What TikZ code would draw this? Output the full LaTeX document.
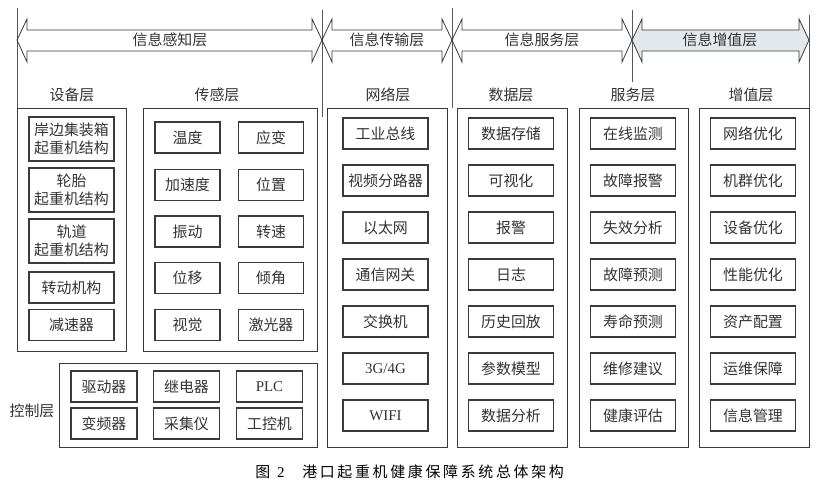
\documentclass[tikz,border=0pt]{standalone}
\usepackage{fontspec}
\setmainfont{Liberation Serif}
\newfontfamily\cjk{Noto Sans CJK SC}
\definecolor{LineGray}{HTML}{3A3A3A}
\definecolor{TextGray}{HTML}{333333}
\definecolor{ValueFill}{HTML}{E3E8EC}
\tikzset{
  itembox/.style={draw=LineGray,line width=1.1pt,
    minimum width=63.75pt,minimum height=23.25pt,
    font=\cjk\fontsize{11.2}{14}\selectfont,text=TextGray,
    align=center,inner sep=1pt},
  sensebox/.style={itembox,minimum width=48.75pt},
  devbox/.style={itembox,minimum height=33pt},
  ctrlbox/.style={itembox,minimum width=49.5pt},
  colbox/.style={draw=LineGray,line width=0.7pt},
  layerlabel/.style={font=\cjk\fontsize{11.2}{13}\selectfont,text=TextGray},
  bandarrow/.style={draw=LineGray,line width=0.6pt},
  divider/.style={draw=LineGray!85,line width=0.6pt},
}

\begin{document}
\begin{tikzpicture}[x=0.75pt,y=-0.75pt]
  \useasboundingbox (0,0) rectangle (820,492);
  % band dividers
  \draw[divider] (17,8) -- (17,108);
  \draw[divider] (322,10) -- (322,117);
  \draw[divider] (452,8) -- (452,108);
  \draw[divider] (632,10) -- (632,82);
  \draw[divider] (809,15) -- (809,108);
  % band arrows
  \draw[bandarrow] (17,40) -- (27,19) -- (27,30) -- (312,30) -- (312,19) -- (322,40)
    -- (312,62) -- (312,51) -- (27,51) -- (27,62) -- cycle;
  \draw[bandarrow] (322,40) -- (332,19) -- (332,30) -- (442,30) -- (442,19) -- (452,40)
    -- (442,62) -- (442,51) -- (332,51) -- (332,62) -- cycle;
  \draw[bandarrow] (452,40) -- (462,19) -- (462,30) -- (622,30) -- (622,19) -- (632,40)
    -- (622,62) -- (622,51) -- (462,51) -- (462,62) -- cycle;
  \draw[bandarrow,fill=ValueFill] (632,40) -- (642,19) -- (642,30) -- (799,30) -- (799,19) -- (809,40)
    -- (799,62) -- (799,51) -- (642,51) -- (642,62) -- cycle;
  \node[layerlabel] (perc) at (170,40) {信息感知层};
  \node[layerlabel] (trans) at (387,40) {信息传输层};
  \node[layerlabel] (serv) at (542,40) {信息服务层};
  \node[layerlabel] (value) at (720,40) {信息增值层};
  % column headers
  \node[layerlabel] (hdev) at (72,95) {设备层};
  \node[layerlabel] (hsen) at (217,95) {传感层};
  \node[layerlabel] (hnet) at (388,95) {网络层};
  \node[layerlabel] (hdat) at (511,95) {数据层};
  \node[layerlabel] (hsrv) at (633,95) {服务层};
  \node[layerlabel] (hval) at (751,95) {增值层};
  \node[layerlabel] (hctl) at (32,411) {控制层};
  % column frames
  \draw[colbox] (17,108) rectangle (126,351);
  \draw[colbox] (143,108) rectangle (317,351);
  \draw[colbox] (327,108) rectangle (447,447);
  \draw[colbox] (457,108) rectangle (567,447);
  \draw[colbox] (579,108) rectangle (688,447);
  \draw[colbox] (699,108) rectangle (809,447);
  \draw[colbox] (59,363) rectangle (317,447);
  % device layer
  \node[devbox] (d1) at (71.5,139) {岸边集装箱\\起重机结构};
  \node[devbox] (d2) at (71.5,190) {轮胎\\起重机结构};
  \node[devbox] (d3) at (71.5,241) {轨道\\起重机结构};
  \node[itembox] (d4) at (71.5,287.5) {转动机构};
  \node[itembox] (d5) at (71.5,325) {减速器};
  % sensing layer
  \node[sensebox] (s1) at (187.5,137.5) {温度};
  \node[sensebox] (s2) at (271,137.5) {应变};
  \node[sensebox] (s3) at (187.5,185) {加速度};
  \node[sensebox] (s4) at (271,185) {位置};
  \node[sensebox] (s5) at (187.5,231.5) {振动};
  \node[sensebox] (s6) at (271,231.5) {转速};
  \node[sensebox] (s7) at (187.5,278) {位移};
  \node[sensebox] (s8) at (271,278) {倾角};
  \node[sensebox] (s9) at (187.5,325) {视觉};
  \node[sensebox] (s10) at (271,325) {激光器};
  % control layer
  \node[ctrlbox] (c1) at (104,386.5) {驱动器};
  \node[ctrlbox] (c2) at (186.5,386.5) {继电器};
  \node[ctrlbox] (c3) at (269.5,386.5) {\rmfamily PLC};
  \node[ctrlbox] (c4) at (104,423.5) {变频器};
  \node[ctrlbox] (c5) at (186.5,423.5) {采集仪};
  \node[ctrlbox] (c6) at (269.5,423.5) {工控机};
  % network layer
  \node[itembox] (n1) at (385.5,133.5) {工业总线};
  \node[itembox] (n2) at (385.5,180.5) {视频分路器};
  \node[itembox] (n3) at (385.5,227.5) {以太网};
  \node[itembox] (n4) at (385.5,274.5) {通信网关};
  \node[itembox] (n5) at (385.5,321.5) {交换机};
  \node[itembox] (n6) at (385.5,368.5) {\rmfamily 3G/4G};
  \node[itembox] (n7) at (385.5,415.5) {\rmfamily WIFI};
  % data layer
  \node[itembox] (t1) at (511,133.5) {数据存储};
  \node[itembox] (t2) at (511,180.5) {可视化};
  \node[itembox] (t3) at (511,227.5) {报警};
  \node[itembox] (t4) at (511,274.5) {日志};
  \node[itembox] (t5) at (511,321.5) {历史回放};
  \node[itembox] (t6) at (511,368.5) {参数模型};
  \node[itembox] (t7) at (511,415.5) {数据分析};
  % service layer
  \node[itembox] (v1) at (633,133.5) {在线监测};
  \node[itembox] (v2) at (633,180.5) {故障报警};
  \node[itembox] (v3) at (633,227.5) {失效分析};
  \node[itembox] (v4) at (633,274.5) {故障预测};
  \node[itembox] (v5) at (633,321.5) {寿命预测};
  \node[itembox] (v6) at (633,368.5) {维修建议};
  \node[itembox] (v7) at (633,415.5) {健康评估};
  % value-added layer
  \node[itembox] (a1) at (753,133.5) {网络优化};
  \node[itembox] (a2) at (753,180.5) {机群优化};
  \node[itembox] (a3) at (753,227.5) {设备优化};
  \node[itembox] (a4) at (753,274.5) {性能优化};
  \node[itembox] (a5) at (753,321.5) {资产配置};
  \node[itembox] (a6) at (753,368.5) {运维保障};
  \node[itembox] (a7) at (753,415.5) {信息管理};
  % caption
  \node[layerlabel,text=black] (figno) at (270,472) {图\hspace{5pt}{\rmfamily 2}};
  \node[layerlabel,text=black,anchor=west,inner sep=0pt,
    font=\cjk\fontsize{11.2}{13}\selectfont\addfontfeature{LetterSpace=18}] (title) at (302,472)
    {港口起重机健康保障系统总体架构};
\end{tikzpicture}
\end{document}
